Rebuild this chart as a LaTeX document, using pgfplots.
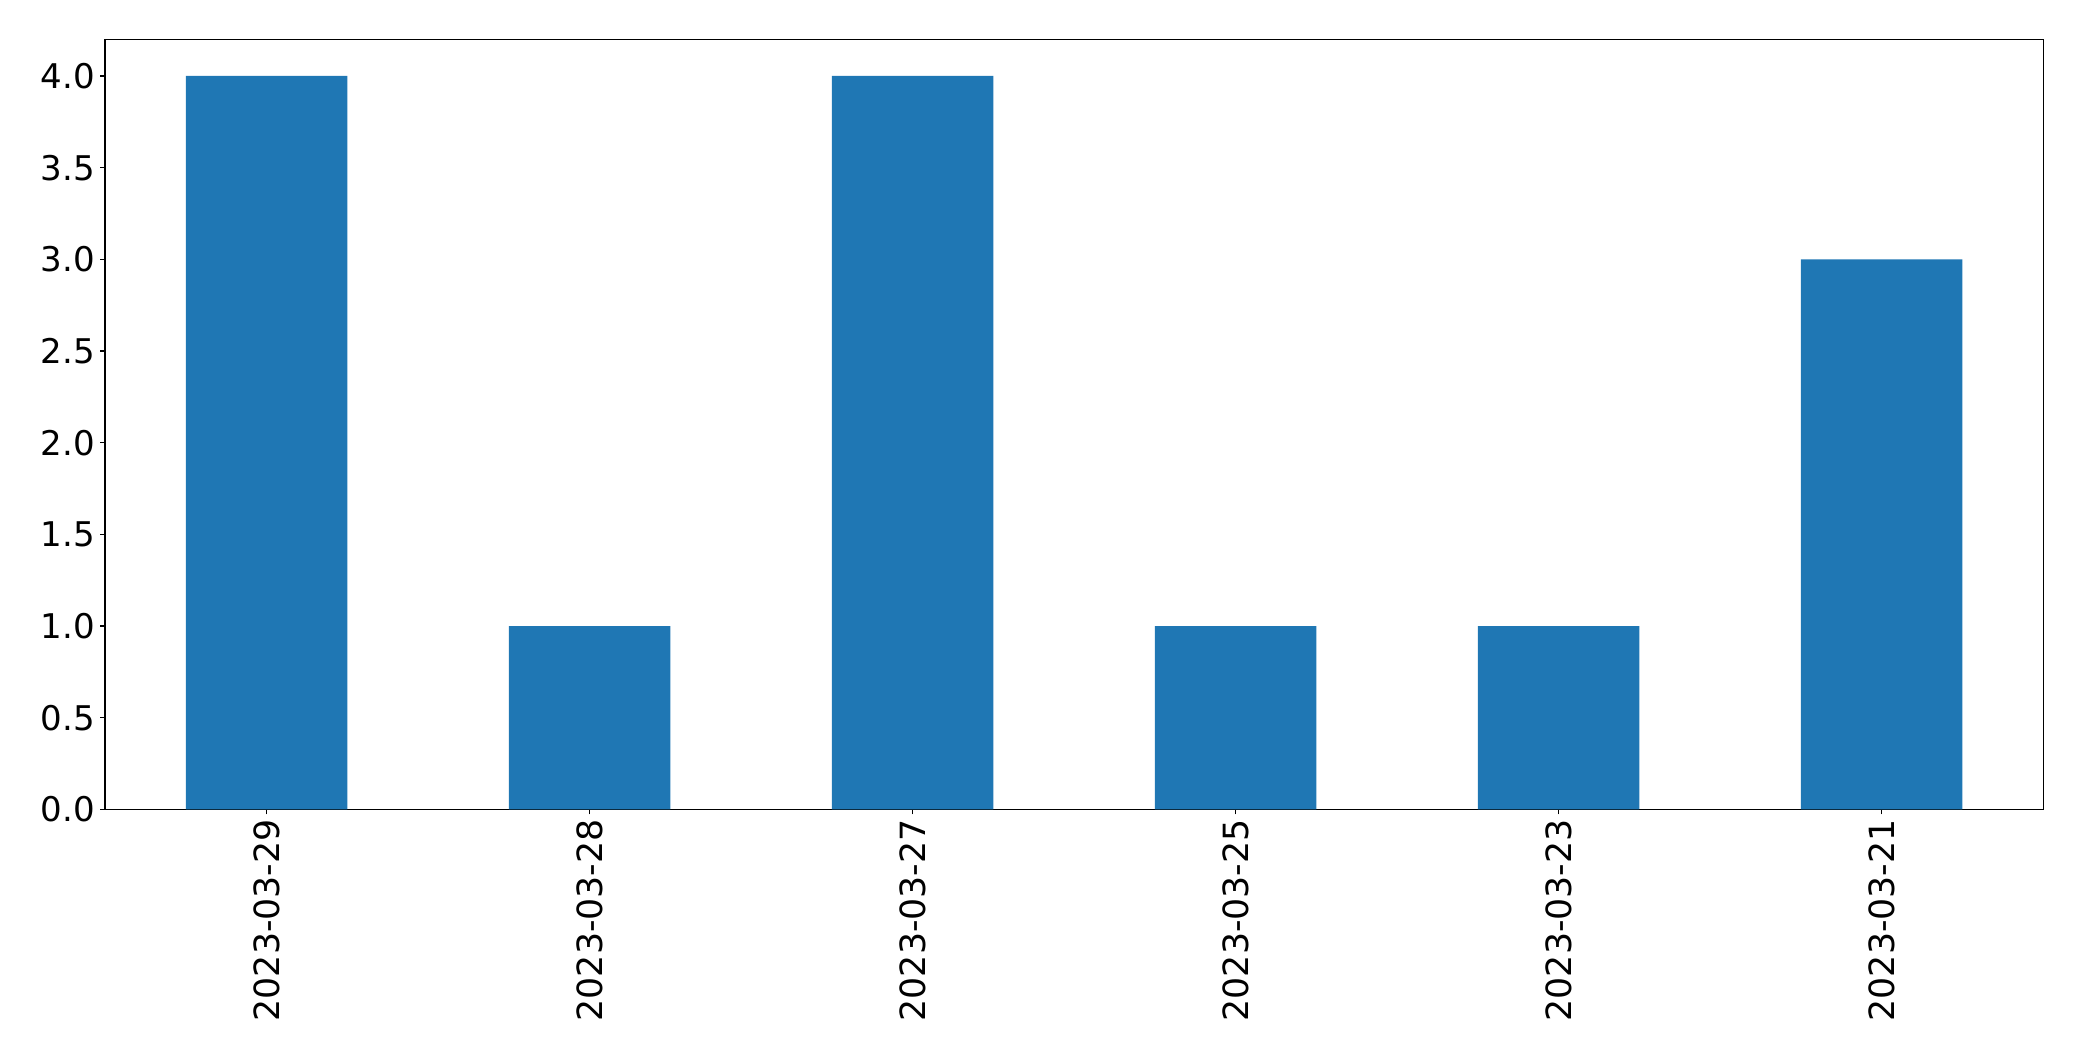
\documentclass[border=0pt]{standalone}
\usepackage{pgfplots}
\pgfplotsset{compat=1.18}
\usepackage{fontspec}
\setmainfont{DejaVu Sans}
\definecolor{mplblue}{HTML}{1F77B4}
\begin{document}
\begin{tikzpicture}
\begin{axis}[
  at={(0pt,0pt)}, anchor=south west,
  scale only axis,
  width=1395.4pt, height=554.4pt,
  xmin=-0.5, xmax=5.5, ymin=0, ymax=4.2,
  xtick={0,1,2,3,4,5},
  xticklabels={2023-03-29,2023-03-28,2023-03-27,2023-03-25,2023-03-23,2023-03-21},
  ytick={0,0.5,1,1.5,2,2.5,3,3.5,4},
  yticklabel style={/pgf/number format/fixed, /pgf/number format/fixed zerofill, /pgf/number format/precision=1, inner sep=3.5pt, font=\fontsize{24.5}{29}\selectfont},
  /pgf/number format/assume math mode=true,
  tick align=outside,
  major tick length=3.5pt,
  xtick pos=bottom, ytick pos=left,
  tick style={black, line width=0.8pt},
  axis line style={black, line width=0.8pt},
  xticklabel style={rotate=90, anchor=east, inner sep=3.5pt, font=\fontsize{25}{30}\selectfont},
]
\addplot[ybar, bar width=0.5, fill=mplblue, draw=none, bar shift=0pt]
  coordinates {(0,4) (1,1) (2,4) (3,1) (4,1) (5,3)};
\end{axis}
\pgfresetboundingbox
\path (-75.6pt,-181.2pt) rectangle (1423.3pt,582.7pt);
\end{tikzpicture}
\end{document}
